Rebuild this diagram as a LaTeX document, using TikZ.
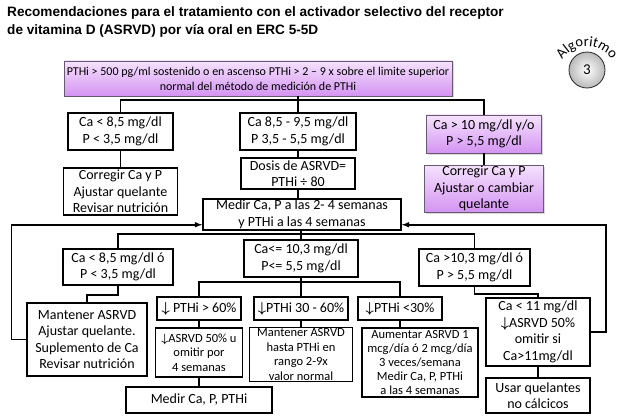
\documentclass[tikz,border=0pt]{standalone}
\usepackage{fontspec}
\setmainfont{Carlito}
\newfontfamily\titulo{Liberation Sans}
\usetikzlibrary{shadows,decorations.text}
\definecolor{lilaclaro}{RGB}{245,226,253}
\definecolor{lilaoscuro}{RGB}{212,148,242}
\definecolor{bordelila}{RGB}{105,90,115}
\newcommand{\baja}{{\boldmath$\downarrow$}}

\begin{document}
\begin{tikzpicture}[x=1pt, y=-1pt, >=latex,
  caja/.style={draw, line width=1.5pt, fill=white, align=center, inner sep=1pt, font=\fontsize{14}{16.5}\selectfont},
  cajita/.style={caja, font=\fontsize{12.5}{14.5}\selectfont},
  lila/.style={draw=bordelila, line width=0.6pt, top color=lilaclaro, bottom color=lilaoscuro, drop shadow={opacity=0.3, shadow xshift=1.5pt, shadow yshift=-1.5pt}, align=center, inner sep=1pt, font=\fontsize{14}{16.5}\selectfont},
  linea/.style={line width=1.5pt}]
\useasboundingbox (0,0) rectangle (630,420);

\node[anchor=north west, align=left, inner sep=0, font=\titulo\bfseries\fontsize{13.6}{18}\selectfont] (tit) at (7,6) {Recomendaciones para el tratamiento con el activador selectivo del receptor\\de vitamina D (ASRVD) por vía oral en ERC 5-5D};

\node[circle, draw=gray!30!black, line width=0.8pt, inner color=white, outer color=gray!55, minimum size=36, font=\fontsize{15}{17}\selectfont] (badge) at (587,70) {3};
\path[decorate, decoration={text along path, text align=center, text={|\fontsize{14.5}{16}\selectfont|Algoritmo}}] (badge.center) ++(0,5) ++(195:29) arc[start angle=195, end angle=345, radius=29];

\node[lila, font=\fontsize{12}{15}\selectfont, minimum width=388, minimum height=35] (pthi) at (258,78.5) {PTHi > 500 pg/ml sostenido o en ascenso PTHi > 2 -- 9 x sobre el limite superior\\normal del método de medición de PTHi};

\node[caja, minimum width=105, minimum height=37] (ca1) at (120.5,131.5) {Ca < 8,5 mg/dl\\P < 3,5 mg/dl};
\node[caja, minimum width=116, minimum height=37] (ca2) at (298,131.5) {Ca 8,5 - 9,5 mg/dl\\P 3,5 - 5,5 mg/dl};
\node[lila, minimum width=115, minimum height=38] (ca3) at (484,134) {Ca > 10 mg/dl y/o\\P > 5,5 mg/dl};

\node[caja, minimum width=114, minimum height=47] (corr1) at (120.5,191.5) {Corregir Ca y P\\Ajustar quelante\\Revisar nutrición};
\node[caja, minimum width=114, minimum height=31] (dosis) at (298,173.5) {Dosis de ASRVD=\\PTHi ÷ 80};
\node[lila, minimum width=119, minimum height=47] (corr3) at (484,188.5) {Corregir Ca y P\\Ajustar o cambiar\\quelante};

\node[caja, minimum width=198, minimum height=31] (medir) at (302,214.5) {Medir Ca, P a las 2- 4 semanas\\y PTHi a las 4 semanas};

\node[caja, minimum width=110, minimum height=36] (bajo) at (118,267) {Ca < 8,5 mg/dl ó\\P < 3,5 mg/dl};
\node[caja, minimum width=114, minimum height=37] (normal) at (301,258.5) {Ca<= 10,3 mg/dl\\P<= 5,5 mg/dl};
\node[caja, minimum width=111, minimum height=37] (alto) at (474.5,267.5) {Ca >10,3 mg/dl ó\\P > 5,5 mg/dl};

\node[caja, minimum width=120, minimum height=73] (mant) at (87,339.5) {Mantener ASRVD\\Ajustar quelante.\\Suplemento de Ca\\Revisar nutrición};
\node[caja, minimum width=84, minimum height=23] (p60) at (199,308.5) {\baja\ PTHi > 60\%};
\node[caja, minimum width=94, minimum height=23] (p30) at (301,308.5) {\baja PTHi 30 - 60\%};
\node[caja, minimum width=84, minimum height=23] (p0) at (400,308.5) {\baja PTHi <30\%};

\node[cajita, minimum width=87, minimum height=49] (omit) at (199,352.5) {\baja ASRVD 50\% u\\omitir por\\4 semanas};
\node[cajita, minimum width=103, minimum height=53] (rango) at (301,354.5) {Mantener ASRVD\\hasta PTHi en\\rango 2-9x\\valor normal};
\node[cajita, font=\fontsize{12.5}{14}\selectfont, minimum width=116, minimum height=69] (aument) at (420,362.5) {Aumentar ASRVD 1\\mcg/día ó 2 mcg/día\\3 veces/semana\\Medir Ca, P, PTHi\\a las 4 semanas};
\node[caja, minimum width=146, minimum height=26] (medir2) at (199,400) {Medir Ca, P, PTHi};

\node[caja, minimum width=104, minimum height=68] (ca11) at (538,332) {Ca < 11 mg/dl\\\baja ASRVD 50\%\\omitir si\\Ca>11mg/dl};
\node[caja, minimum width=104, minimum height=35] (quel) at (538,395.5) {Usar quelantes\\no cálcicos};

\coordinate (j1) at (298,100);
\coordinate (j2) at (301,234);
\coordinate (j3) at (301,282);

\draw[linea] (pthi.south -| ca2.north) -- (ca2.north);
\draw[linea] (ca1.north) |- (j1) -| (ca3.north);
\draw[linea] (ca1) -- (corr1);
\draw[linea] (ca2) -- (dosis);
\draw[linea] (ca3) -- (corr3);
\draw[linea] (dosis.south) -- (dosis.south |- medir.north);
\draw[linea] (medir.south -| normal.north) -- (normal.north);
\draw[linea] (bajo.north) |- (j2) -| (alto.north);
\draw[linea] (bajo.south) -- ++(0,9) -| (mant.north);
\draw[linea] (normal) -- (p30);
\draw[linea] (p60.north) |- (j3) -| (p0.north);
\draw[linea] (p60) -- (omit);
\draw[linea] (p30) -- (rango);
\draw[linea] (p0.south) -- (p0.south |- aument.north);
\draw[linea] (omit) -- (medir2);
\draw[linea] (alto.south) -- ++(0,7) -| (ca11.north);
\draw[linea] (ca11) -- (quel);
\draw[linea, ->] (mant.west) -- ++(-15,0) |- ([yshift=6pt]medir.south west);
\draw[linea, ->] (ca11.east) -- ++(15,0) |- ([yshift=6pt]medir.south east);
\end{tikzpicture}
\end{document}
